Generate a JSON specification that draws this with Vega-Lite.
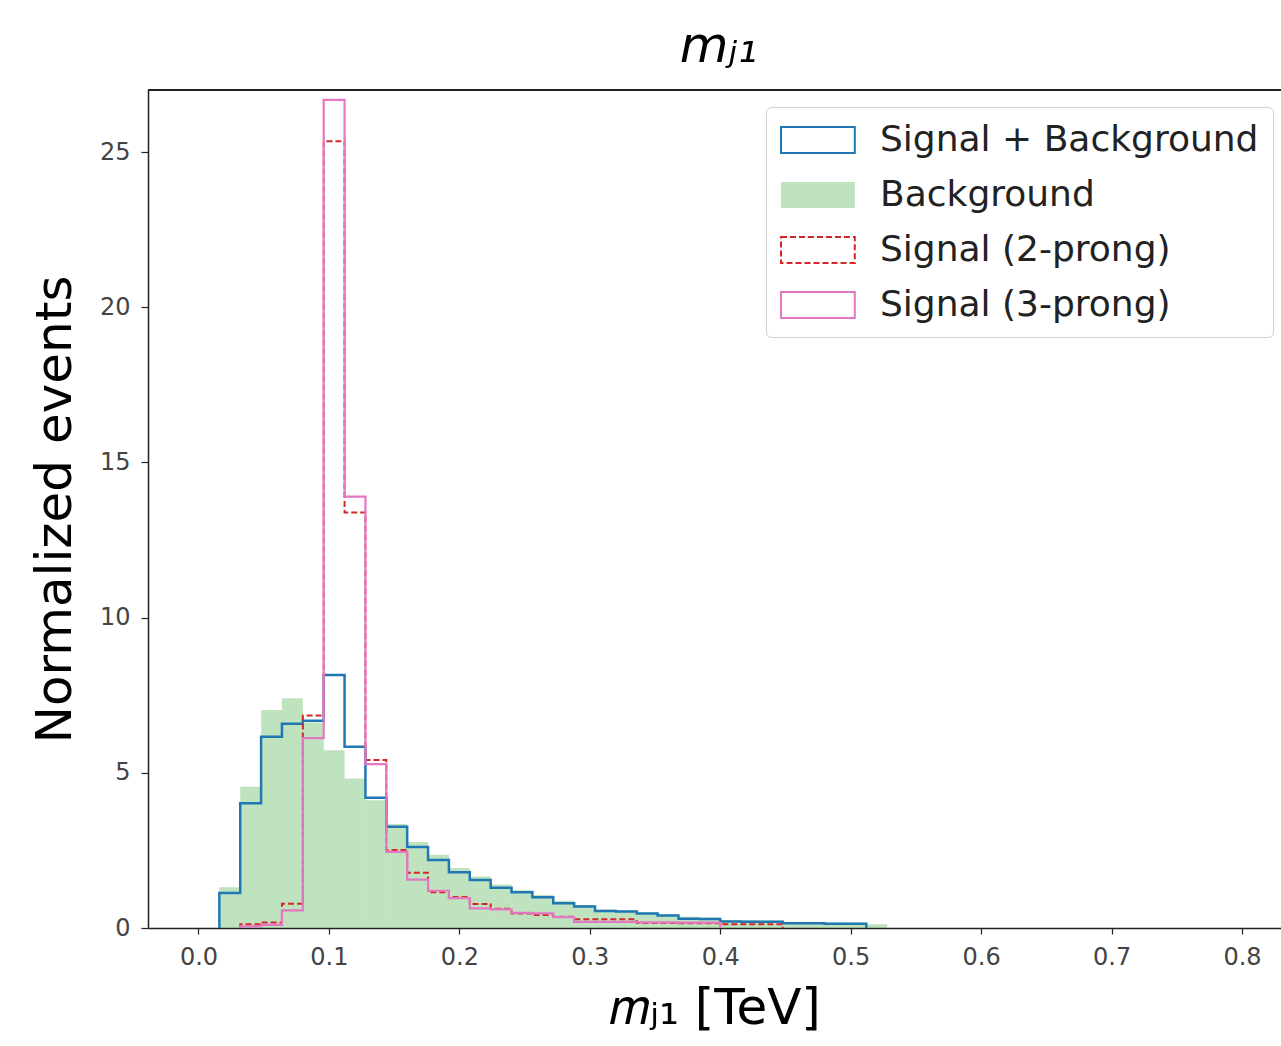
{
  "$schema": "https://vega.github.io/schema/vega-lite/v6.json",
  "autosize": {"type": "none"},
  "width": 1133,
  "height": 838,
  "padding": {"left": 148, "top": 90, "right": 0, "bottom": 118},
  "background": "white",
  "config": {
    "view": {"stroke": null},
    "font": "DejaVu Sans",
    "axis": {"grid": false, "zindex": 1, "domainColor": "#222", "domainWidth": 1.5, "tickColor": "#222", "tickWidth": 1.2, "labelColor": "#444", "titleColor": "black", "titleFontWeight": "normal", "labelFont": "DejaVu Sans", "titleFont": "DejaVu Sans"}
  },
  "title": {"text": "mⱼ₁", "fontSize": 50, "font": "DejaVu Sans", "fontStyle": "italic", "fontWeight": "normal", "color": "black", "anchor": "middle", "offset": 17, "dx": 4},
  "datasets": {
    "hist": [
      {"series": "Signal + Background", "i": 0, "x": 0.016, "y": 0},
      {"series": "Signal + Background", "i": 1, "x": 0.016, "y": 1.13},
      {"series": "Signal + Background", "i": 2, "x": 0.032, "y": 4.02},
      {"series": "Signal + Background", "i": 3, "x": 0.048, "y": 6.16},
      {"series": "Signal + Background", "i": 4, "x": 0.064, "y": 6.58},
      {"series": "Signal + Background", "i": 5, "x": 0.080, "y": 6.68},
      {"series": "Signal + Background", "i": 6, "x": 0.096, "y": 8.15},
      {"series": "Signal + Background", "i": 7, "x": 0.112, "y": 5.84},
      {"series": "Signal + Background", "i": 8, "x": 0.128, "y": 4.20},
      {"series": "Signal + Background", "i": 9, "x": 0.144, "y": 3.26},
      {"series": "Signal + Background", "i": 10, "x": 0.160, "y": 2.61},
      {"series": "Signal + Background", "i": 11, "x": 0.176, "y": 2.19},
      {"series": "Signal + Background", "i": 12, "x": 0.192, "y": 1.80},
      {"series": "Signal + Background", "i": 13, "x": 0.208, "y": 1.55},
      {"series": "Signal + Background", "i": 14, "x": 0.224, "y": 1.30},
      {"series": "Signal + Background", "i": 15, "x": 0.240, "y": 1.15},
      {"series": "Signal + Background", "i": 16, "x": 0.256, "y": 0.99},
      {"series": "Signal + Background", "i": 17, "x": 0.272, "y": 0.80},
      {"series": "Signal + Background", "i": 18, "x": 0.288, "y": 0.69},
      {"series": "Signal + Background", "i": 19, "x": 0.304, "y": 0.55},
      {"series": "Signal + Background", "i": 20, "x": 0.320, "y": 0.53},
      {"series": "Signal + Background", "i": 21, "x": 0.336, "y": 0.47},
      {"series": "Signal + Background", "i": 22, "x": 0.352, "y": 0.40},
      {"series": "Signal + Background", "i": 23, "x": 0.368, "y": 0.30},
      {"series": "Signal + Background", "i": 24, "x": 0.384, "y": 0.29},
      {"series": "Signal + Background", "i": 25, "x": 0.400, "y": 0.21},
      {"series": "Signal + Background", "i": 26, "x": 0.416, "y": 0.20},
      {"series": "Signal + Background", "i": 27, "x": 0.432, "y": 0.20},
      {"series": "Signal + Background", "i": 28, "x": 0.448, "y": 0.15},
      {"series": "Signal + Background", "i": 29, "x": 0.464, "y": 0.15},
      {"series": "Signal + Background", "i": 30, "x": 0.480, "y": 0.14},
      {"series": "Signal + Background", "i": 31, "x": 0.496, "y": 0.14},
      {"series": "Signal + Background", "i": 32, "x": 0.512, "y": 0},

      {"series": "Background", "i": 0, "x": 0.016, "y": 1.31},
      {"series": "Background", "i": 1, "x": 0.032, "y": 4.55},
      {"series": "Background", "i": 2, "x": 0.048, "y": 7.02},
      {"series": "Background", "i": 3, "x": 0.064, "y": 7.40},
      {"series": "Background", "i": 4, "x": 0.080, "y": 6.62},
      {"series": "Background", "i": 5, "x": 0.096, "y": 5.73},
      {"series": "Background", "i": 6, "x": 0.112, "y": 4.82},
      {"series": "Background", "i": 7, "x": 0.128, "y": 4.12},
      {"series": "Background", "i": 8, "x": 0.144, "y": 3.35},
      {"series": "Background", "i": 9, "x": 0.160, "y": 2.77},
      {"series": "Background", "i": 10, "x": 0.176, "y": 2.36},
      {"series": "Background", "i": 11, "x": 0.192, "y": 1.93},
      {"series": "Background", "i": 12, "x": 0.208, "y": 1.66},
      {"series": "Background", "i": 13, "x": 0.224, "y": 1.40},
      {"series": "Background", "i": 14, "x": 0.240, "y": 1.22},
      {"series": "Background", "i": 15, "x": 0.256, "y": 1.06},
      {"series": "Background", "i": 16, "x": 0.272, "y": 0.88},
      {"series": "Background", "i": 17, "x": 0.288, "y": 0.74},
      {"series": "Background", "i": 18, "x": 0.304, "y": 0.60},
      {"series": "Background", "i": 19, "x": 0.320, "y": 0.57},
      {"series": "Background", "i": 20, "x": 0.336, "y": 0.50},
      {"series": "Background", "i": 21, "x": 0.352, "y": 0.44},
      {"series": "Background", "i": 22, "x": 0.368, "y": 0.36},
      {"series": "Background", "i": 23, "x": 0.384, "y": 0.34},
      {"series": "Background", "i": 24, "x": 0.400, "y": 0.26},
      {"series": "Background", "i": 25, "x": 0.416, "y": 0.25},
      {"series": "Background", "i": 26, "x": 0.432, "y": 0.24},
      {"series": "Background", "i": 27, "x": 0.448, "y": 0.19},
      {"series": "Background", "i": 28, "x": 0.464, "y": 0.18},
      {"series": "Background", "i": 29, "x": 0.480, "y": 0.18},
      {"series": "Background", "i": 30, "x": 0.496, "y": 0.17},
      {"series": "Background", "i": 31, "x": 0.512, "y": 0.12},
      {"series": "Background", "i": 32, "x": 0.528, "y": 0},

      {"series": "Signal (2-prong)", "i": 0, "x": 0.032, "y": 0},
      {"series": "Signal (2-prong)", "i": 1, "x": 0.032, "y": 0.12},
      {"series": "Signal (2-prong)", "i": 2, "x": 0.048, "y": 0.18},
      {"series": "Signal (2-prong)", "i": 3, "x": 0.064, "y": 0.78},
      {"series": "Signal (2-prong)", "i": 4, "x": 0.080, "y": 6.85},
      {"series": "Signal (2-prong)", "i": 5, "x": 0.096, "y": 25.35},
      {"series": "Signal (2-prong)", "i": 6, "x": 0.112, "y": 13.39},
      {"series": "Signal (2-prong)", "i": 7, "x": 0.128, "y": 5.41},
      {"series": "Signal (2-prong)", "i": 8, "x": 0.144, "y": 2.51},
      {"series": "Signal (2-prong)", "i": 9, "x": 0.160, "y": 1.78},
      {"series": "Signal (2-prong)", "i": 10, "x": 0.176, "y": 1.15},
      {"series": "Signal (2-prong)", "i": 11, "x": 0.192, "y": 1.00},
      {"series": "Signal (2-prong)", "i": 12, "x": 0.208, "y": 0.77},
      {"series": "Signal (2-prong)", "i": 13, "x": 0.224, "y": 0.62},
      {"series": "Signal (2-prong)", "i": 14, "x": 0.240, "y": 0.47},
      {"series": "Signal (2-prong)", "i": 15, "x": 0.256, "y": 0.42},
      {"series": "Signal (2-prong)", "i": 16, "x": 0.272, "y": 0.36},
      {"series": "Signal (2-prong)", "i": 17, "x": 0.288, "y": 0.28},
      {"series": "Signal (2-prong)", "i": 18, "x": 0.304, "y": 0.28},
      {"series": "Signal (2-prong)", "i": 19, "x": 0.320, "y": 0.28},
      {"series": "Signal (2-prong)", "i": 20, "x": 0.336, "y": 0.16},
      {"series": "Signal (2-prong)", "i": 21, "x": 0.352, "y": 0.16},
      {"series": "Signal (2-prong)", "i": 22, "x": 0.368, "y": 0.15},
      {"series": "Signal (2-prong)", "i": 23, "x": 0.384, "y": 0.15},
      {"series": "Signal (2-prong)", "i": 24, "x": 0.400, "y": 0.12},
      {"series": "Signal (2-prong)", "i": 25, "x": 0.416, "y": 0.12},
      {"series": "Signal (2-prong)", "i": 26, "x": 0.432, "y": 0.12},
      {"series": "Signal (2-prong)", "i": 27, "x": 0.448, "y": 0},

      {"series": "Signal (3-prong)", "i": 0, "x": 0.032, "y": 0},
      {"series": "Signal (3-prong)", "i": 1, "x": 0.032, "y": 0.05},
      {"series": "Signal (3-prong)", "i": 2, "x": 0.048, "y": 0.10},
      {"series": "Signal (3-prong)", "i": 3, "x": 0.064, "y": 0.57},
      {"series": "Signal (3-prong)", "i": 4, "x": 0.080, "y": 6.12},
      {"series": "Signal (3-prong)", "i": 5, "x": 0.096, "y": 26.68},
      {"series": "Signal (3-prong)", "i": 6, "x": 0.112, "y": 13.90},
      {"series": "Signal (3-prong)", "i": 7, "x": 0.128, "y": 5.28},
      {"series": "Signal (3-prong)", "i": 8, "x": 0.144, "y": 2.45},
      {"series": "Signal (3-prong)", "i": 9, "x": 0.160, "y": 1.56},
      {"series": "Signal (3-prong)", "i": 10, "x": 0.176, "y": 1.20},
      {"series": "Signal (3-prong)", "i": 11, "x": 0.192, "y": 0.96},
      {"series": "Signal (3-prong)", "i": 12, "x": 0.208, "y": 0.63},
      {"series": "Signal (3-prong)", "i": 13, "x": 0.224, "y": 0.60},
      {"series": "Signal (3-prong)", "i": 14, "x": 0.240, "y": 0.49},
      {"series": "Signal (3-prong)", "i": 15, "x": 0.256, "y": 0.47},
      {"series": "Signal (3-prong)", "i": 16, "x": 0.272, "y": 0.35},
      {"series": "Signal (3-prong)", "i": 17, "x": 0.288, "y": 0.20},
      {"series": "Signal (3-prong)", "i": 18, "x": 0.304, "y": 0.20},
      {"series": "Signal (3-prong)", "i": 19, "x": 0.320, "y": 0.20},
      {"series": "Signal (3-prong)", "i": 20, "x": 0.336, "y": 0.18},
      {"series": "Signal (3-prong)", "i": 21, "x": 0.352, "y": 0.18},
      {"series": "Signal (3-prong)", "i": 22, "x": 0.368, "y": 0.17},
      {"series": "Signal (3-prong)", "i": 23, "x": 0.384, "y": 0.17},
      {"series": "Signal (3-prong)", "i": 24, "x": 0.400, "y": 0}
    ]
  },
  "data": {"name": "hist"},
  "layer": [
    {"transform": [{"filter": "datum.series === 'Background'"}],
     "mark": {"type": "area", "interpolate": "step-after", "opacity": 1, "strokeWidth": 0},
     "encoding": {
       "x": {"field": "x", "type": "quantitative",
         "scale": {"domain": [-0.0387, 0.8299], "nice": false, "zero": false},
         "axis": {"title": "𝑚ⱼ₁ [TeV]", "values": [0, 0.1, 0.2, 0.3, 0.4, 0.5, 0.6, 0.7, 0.8], "format": ".1f", "labelFontSize": 24, "titleFontSize": 50, "tickSize": 6, "labelPadding": 11, "titlePadding": 14}},
       "y": {"field": "y", "type": "quantitative",
         "scale": {"domain": [0, 27], "nice": false},
         "axis": {"title": "Normalized events", "values": [0, 5, 10, 15, 20, 25], "labelFontSize": 24, "titleFontSize": 50, "tickSize": 7, "labelPadding": 11, "titlePadding": 19}},
       "order": {"field": "i", "type": "quantitative"},
       "fill": {"field": "series", "type": "nominal",
         "scale": {"domain": ["Signal + Background", "Background", "Signal (2-prong)", "Signal (3-prong)"], "range": ["transparent", "rgba(44,160,44,0.3)", "transparent", "transparent"]},
         "legend": {"orient": "none", "legendX": 618, "legendY": 17, "title": null, "labelFontSize": 36, "labelFont": "DejaVu Sans", "labelColor": "#222", "symbolType": "M-1,-0.72L3.1,-0.72L3.1,0.72L-1,0.72Z", "symbolSize": 1296, "rowPadding": 18, "padding": 14, "fillColor": "rgba(255,255,255,0.8)", "strokeColor": "#d0d0d0", "cornerRadius": 5, "labelOffset": 62, "labelLimit": 600, "symbolStrokeWidth": 2, "symbolOpacity": 1}}
     }},
    {"transform": [{"filter": "datum.series === 'Signal + Background'"}],
     "mark": {"type": "line", "interpolate": "step-after", "strokeWidth": 2.5},
     "encoding": {
       "x": {"field": "x", "type": "quantitative"},
       "y": {"field": "y", "type": "quantitative"},
       "order": {"field": "i", "type": "quantitative"},
       "stroke": {"field": "series", "type": "nominal",
         "scale": {"domain": ["Signal + Background", "Background", "Signal (2-prong)", "Signal (3-prong)"], "range": ["#1f77b4", "transparent", "#d62728", "#e377c2"]},
         "legend": {"orient": "none", "legendX": 618, "legendY": 17, "title": null, "labelFontSize": 36, "labelFont": "DejaVu Sans", "labelColor": "#222", "symbolType": "M-1,-0.72L3.1,-0.72L3.1,0.72L-1,0.72Z", "symbolSize": 1296, "rowPadding": 18, "padding": 14, "fillColor": "rgba(255,255,255,0.8)", "strokeColor": "#d0d0d0", "cornerRadius": 5, "labelOffset": 62, "labelLimit": 600, "symbolStrokeWidth": 2, "symbolOpacity": 1}},
       "strokeDash": {"field": "series", "type": "nominal",
         "scale": {"domain": ["Signal + Background", "Background", "Signal (2-prong)", "Signal (3-prong)"], "range": [[1, 0], [1, 0], [6, 3], [1, 0]]},
         "legend": {"orient": "none", "legendX": 618, "legendY": 17, "title": null, "labelFontSize": 36, "labelFont": "DejaVu Sans", "labelColor": "#222", "symbolType": "M-1,-0.72L3.1,-0.72L3.1,0.72L-1,0.72Z", "symbolSize": 1296, "rowPadding": 18, "padding": 14, "fillColor": "rgba(255,255,255,0.8)", "strokeColor": "#d0d0d0", "cornerRadius": 5, "labelOffset": 62, "labelLimit": 600, "symbolStrokeWidth": 2, "symbolOpacity": 1}}
     }},
    {"transform": [{"filter": "datum.series === 'Signal (2-prong)'"}],
     "mark": {"type": "line", "interpolate": "step-after", "strokeWidth": 2},
     "encoding": {
       "x": {"field": "x", "type": "quantitative"},
       "y": {"field": "y", "type": "quantitative"},
       "order": {"field": "i", "type": "quantitative"},
       "stroke": {"field": "series", "type": "nominal",
         "legend": {"orient": "none", "legendX": 618, "legendY": 17, "title": null, "labelFontSize": 36, "labelFont": "DejaVu Sans", "labelColor": "#222", "symbolType": "M-1,-0.72L3.1,-0.72L3.1,0.72L-1,0.72Z", "symbolSize": 1296, "rowPadding": 18, "padding": 14, "fillColor": "rgba(255,255,255,0.8)", "strokeColor": "#d0d0d0", "cornerRadius": 5, "labelOffset": 62, "labelLimit": 600, "symbolStrokeWidth": 2, "symbolOpacity": 1}},
       "strokeDash": {"field": "series", "type": "nominal",
         "legend": {"orient": "none", "legendX": 618, "legendY": 17, "title": null, "labelFontSize": 36, "labelFont": "DejaVu Sans", "labelColor": "#222", "symbolType": "M-1,-0.72L3.1,-0.72L3.1,0.72L-1,0.72Z", "symbolSize": 1296, "rowPadding": 18, "padding": 14, "fillColor": "rgba(255,255,255,0.8)", "strokeColor": "#d0d0d0", "cornerRadius": 5, "labelOffset": 62, "labelLimit": 600, "symbolStrokeWidth": 2, "symbolOpacity": 1}}
     }},
    {"transform": [{"filter": "datum.series === 'Signal (3-prong)'"}],
     "mark": {"type": "line", "interpolate": "step-after", "strokeWidth": 2.2},
     "encoding": {
       "x": {"field": "x", "type": "quantitative"},
       "y": {"field": "y", "type": "quantitative"},
       "order": {"field": "i", "type": "quantitative"},
       "stroke": {"field": "series", "type": "nominal",
         "legend": {"orient": "none", "legendX": 618, "legendY": 17, "title": null, "labelFontSize": 36, "labelFont": "DejaVu Sans", "labelColor": "#222", "symbolType": "M-1,-0.72L3.1,-0.72L3.1,0.72L-1,0.72Z", "symbolSize": 1296, "rowPadding": 18, "padding": 14, "fillColor": "rgba(255,255,255,0.8)", "strokeColor": "#d0d0d0", "cornerRadius": 5, "labelOffset": 62, "labelLimit": 600, "symbolStrokeWidth": 2, "symbolOpacity": 1}},
       "strokeDash": {"field": "series", "type": "nominal",
         "legend": {"orient": "none", "legendX": 618, "legendY": 17, "title": null, "labelFontSize": 36, "labelFont": "DejaVu Sans", "labelColor": "#222", "symbolType": "M-1,-0.72L3.1,-0.72L3.1,0.72L-1,0.72Z", "symbolSize": 1296, "rowPadding": 18, "padding": 14, "fillColor": "rgba(255,255,255,0.8)", "strokeColor": "#d0d0d0", "cornerRadius": 5, "labelOffset": 62, "labelLimit": 600, "symbolStrokeWidth": 2, "symbolOpacity": 1}}
     }},
    {"mark": {"type": "rule", "color": "#222", "strokeWidth": 1.5},
     "encoding": {"y": {"datum": 27}}}
  ]
}
